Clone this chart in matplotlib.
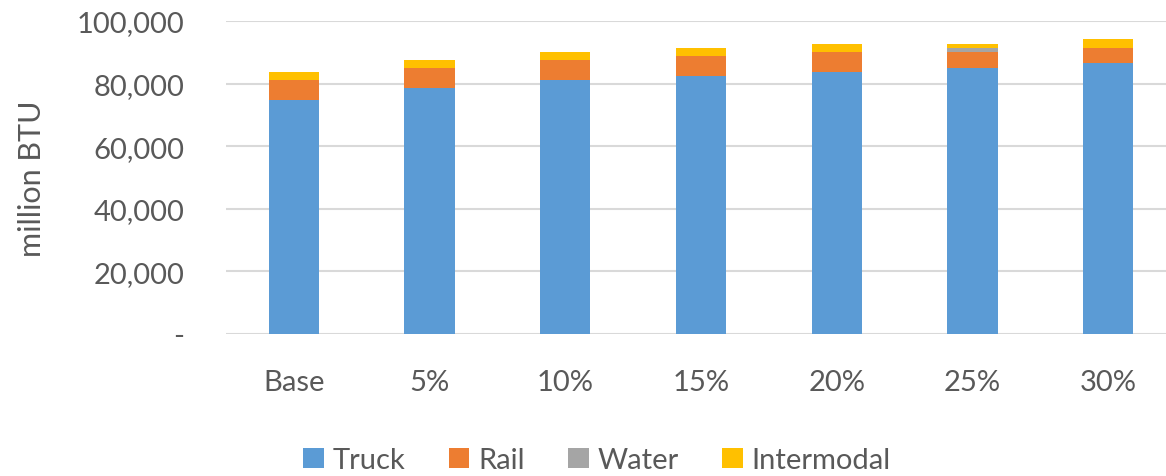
import matplotlib.pyplot as plt
import numpy as np
from matplotlib.ticker import FuncFormatter

plt.rcParams['font.family'] = ['Lato', 'DejaVu Sans']

# ── Data (million BTU) ──────────────────────────────────────────────
scenarios = ['Base', '5%', '10%', '15%', '20%', '25%', '30%']
truck = [74700, 78600, 81200, 82300, 83600, 84900, 86500]
rail = [6500, 6300, 6400, 6600, 6600, 5200, 4900]
water = [0, 0, 0, 0, 0, 1300, 0]
intermodal = [2400, 2600, 2500, 2500, 2500, 1300, 2800]

modes = ['Truck', 'Rail', 'Water', 'Intermodal']
colors = ['#5B9BD5', '#ED7D31', '#A5A5A5', '#FFC000']
text_c = '#595959'

fig = plt.figure(figsize=(11.66, 4.77), dpi=100)
ax = fig.add_axes([0.1938, 0.2977, 0.8148, 0.6562])

x = np.arange(len(scenarios))
bottom = np.zeros(len(scenarios))
handles = []
for name, vals, col in zip(modes, [truck, rail, water, intermodal], colors):
    h = ax.bar(x, vals, width=0.37, bottom=bottom, color=col, label=name, zorder=3)
    handles.append(h)
    bottom += np.array(vals)

ax.set_xlim(-0.5, len(scenarios) - 0.5)
ax.set_ylim(0, 100000)
ax.set_yticks(np.arange(0, 100001, 20000))
ax.yaxis.set_major_formatter(FuncFormatter(lambda v, p: '-' if v == 0 else f'{v:,.0f}'))
ax.grid(axis='y', color='#D9D9D9', linewidth=1.5, zorder=0)
ax.set_axisbelow(True)
for s in ax.spines.values():
    s.set_visible(False)
ax.tick_params(axis='both', length=0, labelsize=21, colors=text_c)
ax.tick_params(axis='y', pad=30)
ax.tick_params(axis='x', pad=25)
ax.set_xticks(x)
ax.set_xticklabels(scenarios)
ax.set_ylabel('million BTU', fontsize=22, color=text_c, labelpad=22)

fig.legend(handles=handles, labels=modes, loc='center', ncol=4,
           bbox_to_anchor=(0.512, 1 - 461 / 477), frameon=False,
           fontsize=21, labelcolor=text_c, handlelength=0.7, handleheight=0.7,
           handletextpad=0.3, columnspacing=1.5)

plt.savefig('out.png', dpi=100)
plt.close()
